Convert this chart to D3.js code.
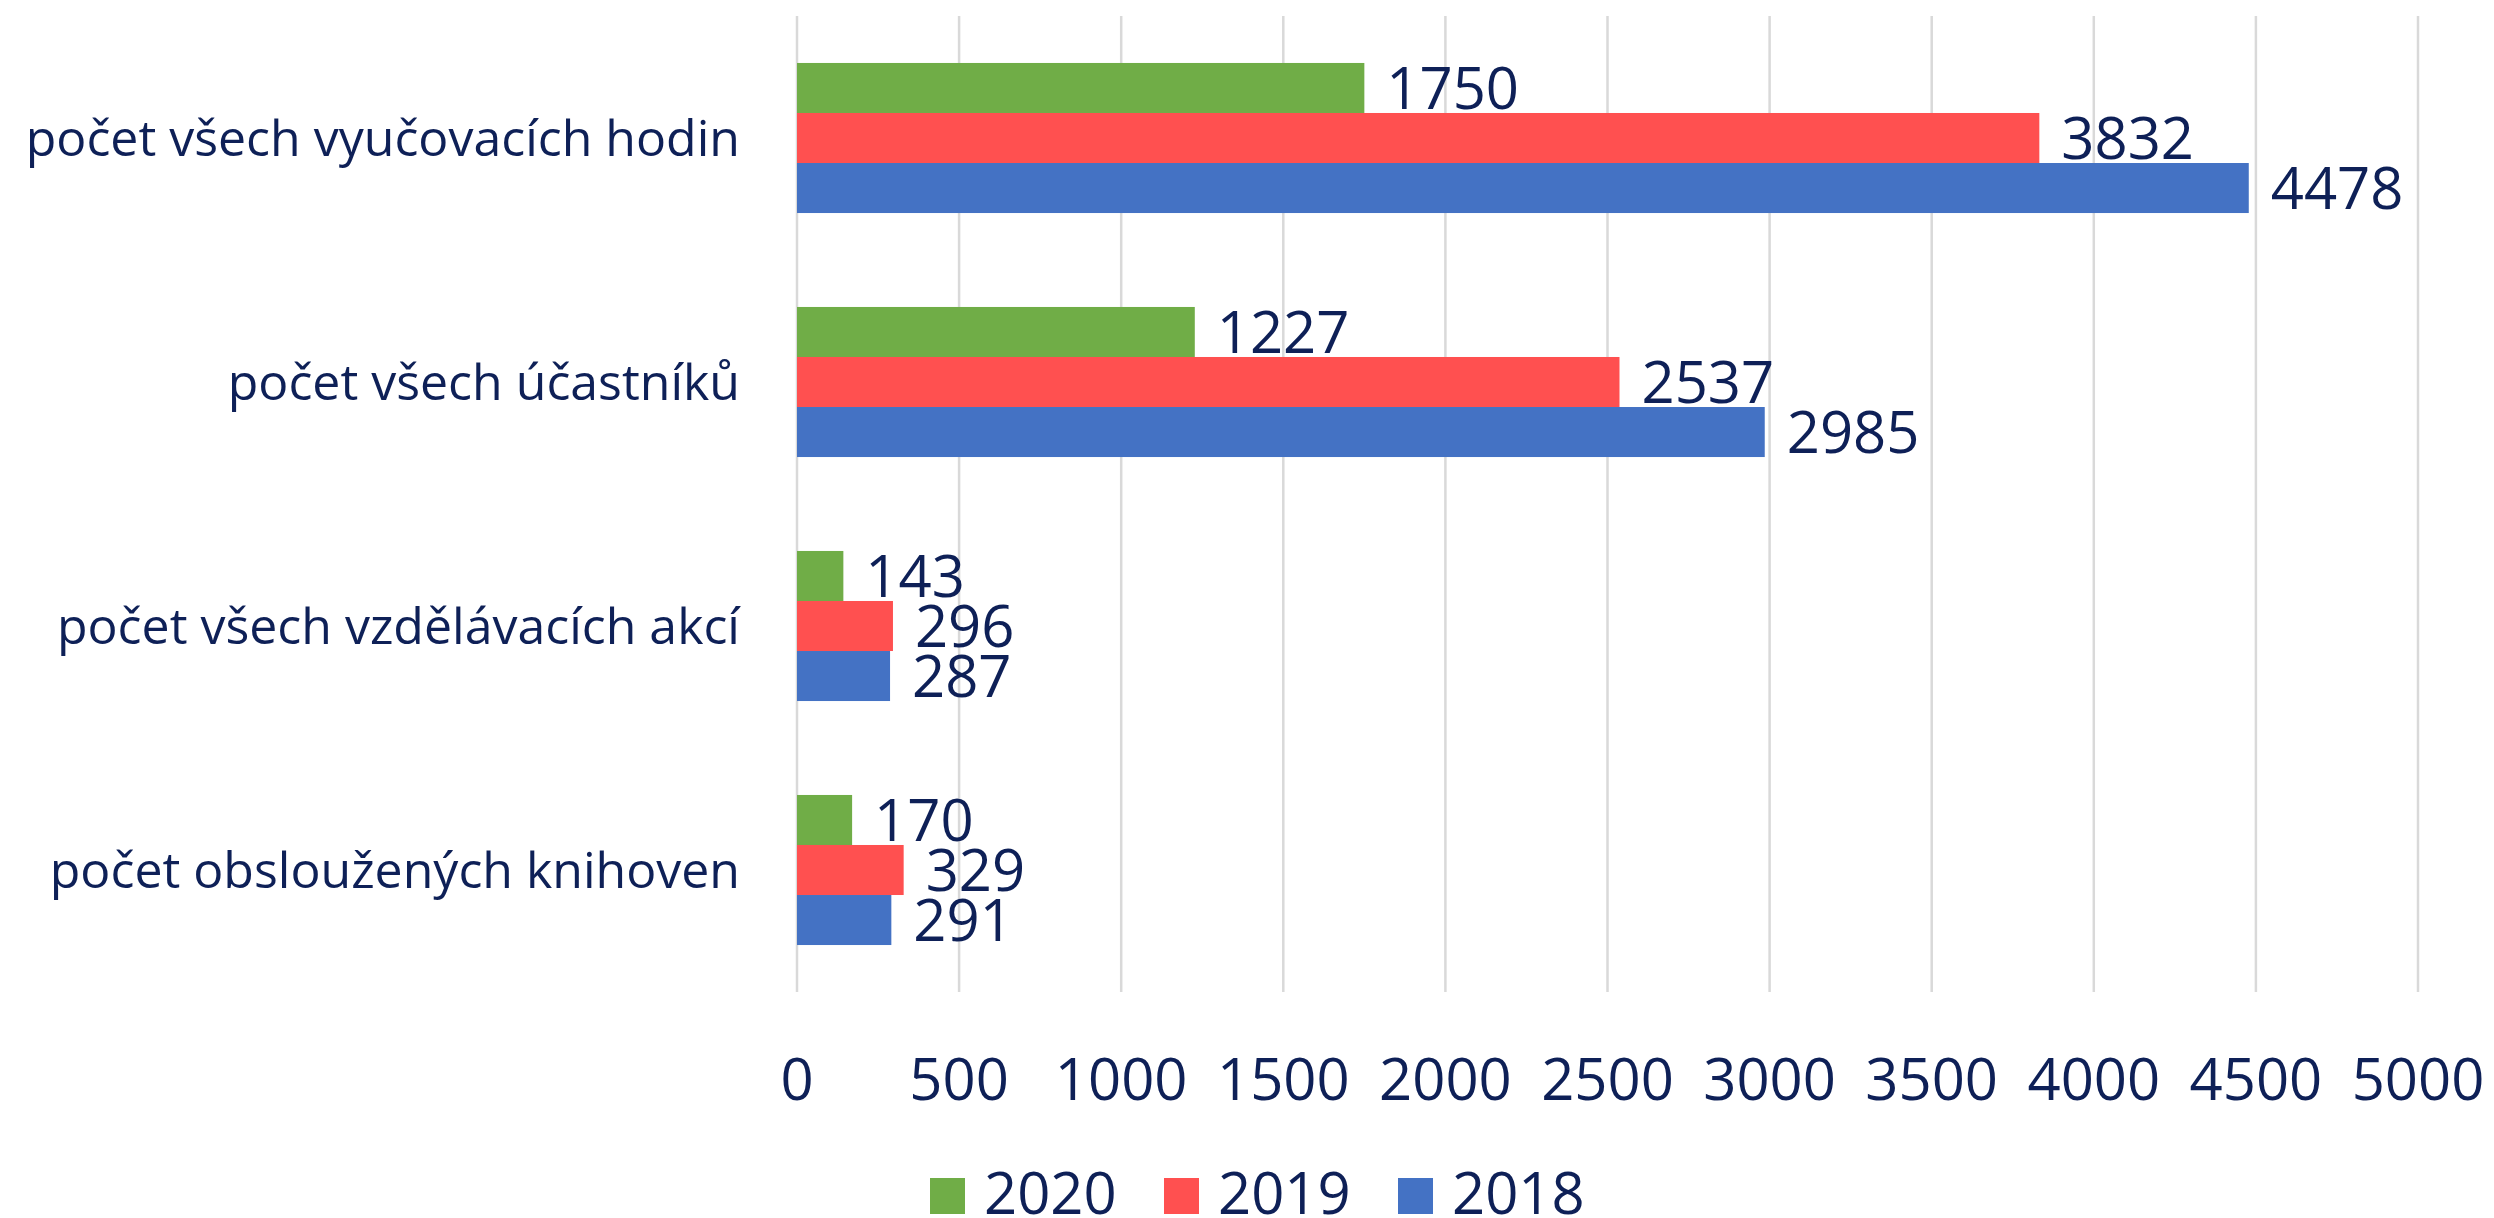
<!DOCTYPE html>
<html>
<head>
<meta charset="utf-8">
<title>Vzdělávací akce</title>
<script src="https://d3js.org/d3.v7.min.js"></script>
<style>
  body { margin: 0; background: #fff; }
  text { font-family: "Open Sans", "Liberation Sans", sans-serif; fill: #0E2057; }
</style>
</head>
<body>
<div id="chart"></div>
<script>
// data
const categories = ["počet všech vyučovacích hodin", "počet všech účastníků",
                    "počet všech vzdělávacích akcí", "počet obsloužených knihoven"];
const years = ["2020", "2019", "2018"];
const values2020 = [1750, 1227, 143, 170];
const values2019 = [3832, 2537, 296, 329];
const values2018 = [4478, 2985, 287, 291];
const xTicks = [0, 500, 1000, 1500, 2000, 2500, 3000, 3500, 4000, 4500, 5000];

const colors = {"2020": "#70AD47", "2019": "#FF5050", "2018": "#4472C4"};
const seriesValues = {"2020": values2020, "2019": values2019, "2018": values2018};

const W = 2494, H = 1218;
const margin = {top: 16, right: 76, bottom: 226, left: 797};
const w = W - margin.left - margin.right;
const h = H - margin.top - margin.bottom;

const svg = d3.select("#chart").append("svg")
    .attr("width", W).attr("height", H);

const g = svg.append("g")
    .attr("transform", "translate(" + margin.left + "," + margin.top + ")");

const x = d3.scaleLinear().domain([0, 5000]).range([0, w]);
const y = d3.scaleBand().domain(categories).range([0, h]).paddingInner(0.385).paddingOuter(0.1925);
const yInner = d3.scaleBand().domain(years).range([0, y.bandwidth()]);

// gridlines
g.selectAll("line.grid")
    .data(xTicks)
    .enter().append("line")
      .attr("class", "grid")
      .attr("x1", d => x(d)).attr("x2", d => x(d))
      .attr("y1", 0).attr("y2", h)
      .attr("stroke", "#D9D9D9")
      .attr("stroke-width", 2.5);

// x tick labels
g.selectAll("text.tick")
    .data(xTicks)
    .enter().append("text")
      .attr("class", "tick")
      .attr("x", d => x(d))
      .attr("y", h + 108)
      .attr("text-anchor", "middle")
      .attr("font-size", "58px")
      .text(d => d);

// category labels
g.selectAll("text.cat")
    .data(categories)
    .enter().append("text")
      .attr("class", "cat")
      .attr("x", -57)
      .attr("y", d => y(d) + y.bandwidth() / 2)
      .attr("dy", "0.35em")
      .attr("text-anchor", "end")
      .attr("font-size", "50px")
      .text(d => d);

// bars + labels
const rows = [];
categories.forEach((c, i) => {
  years.forEach(yr => rows.push({cat: c, year: yr, value: seriesValues[yr][i]}));
});

g.selectAll("rect.bar")
    .data(rows)
    .enter().append("rect")
      .attr("class", "bar")
      .attr("x", x(0))
      .attr("y", d => y(d.cat) + yInner(d.year))
      .attr("width", d => x(d.value) - x(0))
      .attr("height", yInner.bandwidth())
      .attr("fill", d => colors[d.year]);

g.selectAll("text.val")
    .data(rows)
    .enter().append("text")
      .attr("class", "val")
      .attr("x", d => x(d.value) + 22)
      .attr("y", d => y(d.cat) + yInner(d.year) + yInner.bandwidth() / 2)
      .attr("dy", "0.36em")
      .attr("font-size", "58px")
      .text(d => d.value);

// legend
const legend = svg.append("g").attr("transform", "translate(930,1214)");
const item = legend.selectAll("g")
    .data(years)
    .enter().append("g")
      .attr("transform", (d, i) => "translate(" + (i * 234) + ",0)");
item.append("rect")
    .attr("x", 0).attr("y", -36)
    .attr("width", 35).attr("height", 36)
    .attr("fill", d => colors[d]);
item.append("text")
    .attr("x", 54).attr("y", 0)
    .attr("font-size", "58px")
    .text(d => d);
</script>
</body>
</html>
